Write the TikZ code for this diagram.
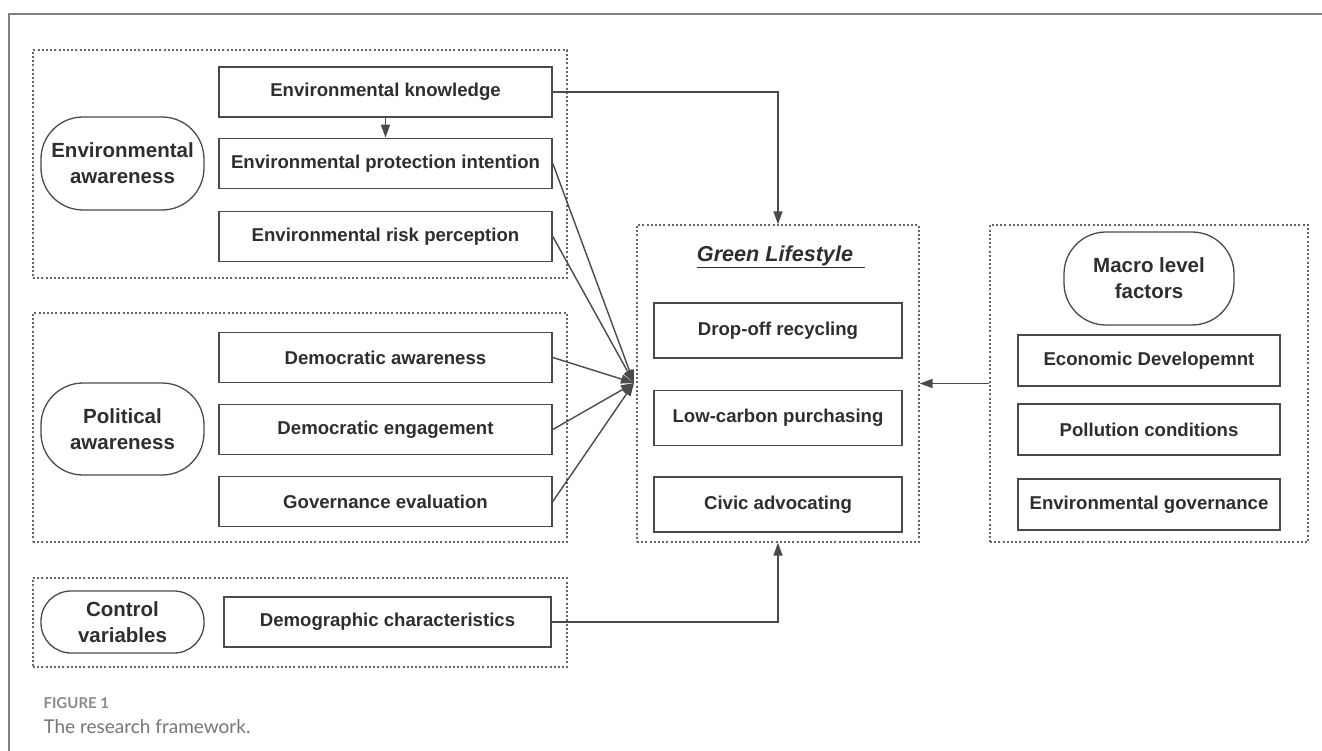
\documentclass[tikz,border=0pt]{standalone}
\usepackage{fontspec}
\setmainfont{Liberation Sans}
\newfontfamily\capfont{Lato}
\usepackage{tikz}
\usetikzlibrary{arrows.meta, positioning, calc}
\definecolor{fwline}{HTML}{4A4A4A}
\definecolor{fwtext}{HTML}{2E2E2E}
\definecolor{fwdash}{HTML}{666666}
\definecolor{fwcap}{HTML}{8A8A8A}
\tikzset{
  fwbox/.style={rectangle, draw=fwline, line width=1.6pt, text=fwtext,
                minimum width=333pt, minimum height=50pt, inner sep=0pt,
                align=center, font=\fontsize{18.6}{22}\selectfont\bfseries},
  fwgreen/.style={fwbox, minimum width=248pt, minimum height=55pt},
  fwmacro/.style={fwbox, minimum width=262pt, minimum height=51pt},
  fwoval/.style={fwbox, rounded corners=42pt, line width=1.3pt,
                 minimum width=163pt, minimum height=93pt,
                 font=\fontsize{20.5}{26}\selectfont\bfseries},
  fwgroup/.style={rectangle, draw=fwdash, line width=1.3pt,
                  dash pattern=on 2pt off 2.2pt, inner sep=0pt},
  fwarrow/.style={-{Triangle[length=13pt, width=9pt]}, line width=1.4pt, fwline},
}
\begin{document}
\begin{tikzpicture}[x=1pt, y=-1pt]
  \useasboundingbox (0,0) rectangle (1322,751);
  % page frame
  \draw[gray, line width=2pt] (9,751) -- (9,14) -- (1322,14);

  % groups
  \node[fwgroup, minimum width=534pt, minimum height=228pt] (envgrp) at (300, 164) {};
  \node[fwgroup, minimum width=534pt, minimum height=229pt] (polgrp) at (300, 427.5) {};
  \node[fwgroup, minimum width=534pt, minimum height=89pt] (ctrlgrp) at (300, 622.5) {};
  \node[fwgroup, minimum width=282pt, minimum height=317pt] (gl) at (778, 383.5) {};
  \node[fwgroup, minimum width=318pt, minimum height=317pt] (macgrp) at (1149, 383.5) {};

  % environmental awareness
  \node[fwoval] (envaw) at (122.5, 163.5) {Environmental\\awareness};
  \node[fwbox] (ek) at (385.5, 92) {Environmental knowledge};
  \node[fwbox] (epi) at (385.5, 163.5) {Environmental protection intention};
  \node[fwbox] (erp) at (385.5, 236.5) {Environmental risk perception};

  % political awareness
  \node[fwoval, minimum height=92pt] (polaw) at (122.5, 429) {Political\\awareness};
  \node[fwbox] (da) at (385.5, 357.5) {Democratic awareness};
  \node[fwbox] (de) at (385.5, 429.5) {Democratic engagement};
  \node[fwbox] (ge) at (385.5, 501.5) {Governance evaluation};

  % control variables
  \node[fwoval, rounded corners=30pt, minimum height=62pt] (ctrl) at (122.5, 622) {Control\\variables};
  \node[fwbox, minimum width=327pt] (dc) at (387.5, 622) {Demographic characteristics};

  % green lifestyle
  \node[text=fwtext, font=\fontsize{21.6}{25}\selectfont\bfseries\itshape] (gltitle) at (781, 257)
    {\underline{Green Lifestyle\hspace{12pt}}};
  \node[fwgreen] (dr) at (778, 330.5) {Drop-off recycling};
  \node[fwgreen] (lc) at (778, 418) {Low-carbon purchasing};
  \node[fwgreen] (ca) at (778, 504.5) {Civic advocating};

  % macro level factors
  \node[fwoval, minimum width=170pt] (macro) at (1149, 278.5) {Macro level\\factors};
  \node[fwmacro] (ed) at (1149, 360.5) {Economic Developemnt};
  \node[fwmacro] (pc) at (1149, 429.5) {Pollution conditions};
  \node[fwmacro] (eg) at (1149, 504.5) {Environmental governance};

  % connectors
  \coordinate (hub) at (634, 383);
  \draw[fwarrow] (ek.south) -- (epi.north);
  \draw[fwarrow] (ek.east) -| (gl.north);
  \foreach \src in {epi, erp, da, de, ge}
    \draw[fwarrow] (\src.east) -- (hub);
  \draw[fwarrow] (macgrp.west) -- (gl.east);
  \draw[fwarrow] (dc.east) -| (gl.south);

  % caption
  \node[anchor=west, text=fwcap, font=\capfont\bfseries\fontsize{15}{17}\selectfont] (fig) at (40, 703) {FIGURE 1};
  \node[anchor=west, text=fwcap!85!black, font=\capfont\fontsize{19}{21}\selectfont] (capt) at (40, 727) {The research framework.};
\end{tikzpicture}
\end{document}
